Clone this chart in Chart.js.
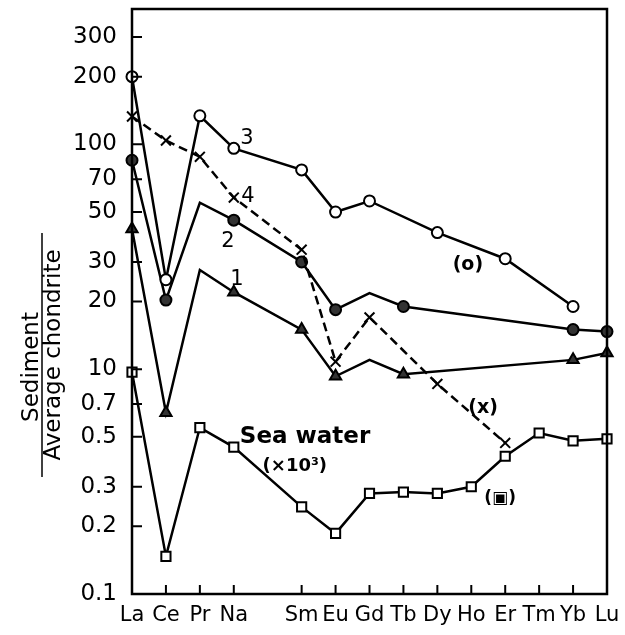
<!DOCTYPE html>
<html>
<head>
<meta charset="utf-8">
<script src="https://cdn.jsdelivr.net/npm/chart.js@4"></script>
<style>
  html, body { margin: 0; padding: 0; background: #fff; }
</style>
</head>
<body>
<canvas id="reeChart" width="625" height="635"></canvas>
<script>
// rare earth elements, Pm left empty
const elements = ["La", "Ce", "Pr", "Na", "", "Sm", "Eu", "Gd", "Tb", "Dy", "Ho", "Er", "Tm", "Yb", "Lu"];

// sediment / average chondrite
const sample3 = [200, 25, 134, 96, null, 77, 50, 56, null, 40.5, null, 31, null, 19, null];
const sample4 = [133, 104, 88, 58, null, 34, 10.8, 17, null, 8.6, null, 4.7, null, null, null];
const sample2 = [85, 20.3, 55, 46, null, 30, 18.4, 21.8, 19, null, null, null, null, 15, 14.7];
const sample1 = [42, 6.4, 27.6, 22, null, 15, 9.3, 11, 9.5, null, null, null, null, 11, 11.8];

// sea water (x10^3), read on the lower scale
const seaWater = [0.97, 0.147, 0.55, 0.45, null, 0.244, 0.186, 0.28, 0.284, 0.28, 0.3, 0.41, 0.52, 0.48, 0.49];

// axis is in sediment units; labels under 10 belong to the sea water scale (value / 10)
const yTicks = [300, 200, 100, 70, 50, 30, 20, 10, 7, 5, 3, 2, 1];

// peaks drawn without a marker
const noMarker = [2, 7];

const markerSize = (r) => (ctx) => (noMarker.includes(ctx.dataIndex) ? 0 : r);

const frame = {
  id: "frame",
  afterDraw(chart) {
    const { ctx, chartArea: a, scales } = chart;
    const x = scales.x, y = scales.y;
    ctx.save();
    ctx.strokeStyle = "#000";
    ctx.lineWidth = 2.5;
    ctx.strokeRect(a.left, a.top, a.right - a.left, a.bottom - a.top);

    // inner tick marks
    ctx.beginPath();
    ctx.lineWidth = 2;
    yTicks.forEach((v) => {
      if (v === 1) return;
      const py = y.getPixelForValue(v);
      ctx.moveTo(a.left, py);
      ctx.lineTo(a.left + 10, py);
    });
    elements.forEach((e, i) => {
      if (!e || i === 0 || i === elements.length - 1) return;
      const px = x.getPixelForValue(i);
      ctx.moveTo(px, a.bottom);
      ctx.lineTo(px, a.bottom - 9);
    });
    ctx.stroke();

    // y title as a fraction
    ctx.save();
    ctx.translate(0, 355);
    ctx.rotate(-Math.PI / 2);
    ctx.fillStyle = "#000";
    ctx.textAlign = "center";
    ctx.font = "23px 'DejaVu Sans'";
    ctx.textBaseline = "alphabetic";
    ctx.fillText("Sediment", -12, 38);
    ctx.fillText("Average chondrite", 0, 60);
    ctx.beginPath();
    ctx.lineWidth = 1.5;
    ctx.moveTo(-122, 42);
    ctx.lineTo(122, 42);
    ctx.stroke();
    ctx.restore();

    // curve labels
    const notes = [
      { t: "3", i: 3.39, v: 106, f: "21px 'DejaVu Sans'" },
      { t: "4", i: 3.42, v: 58.7, f: "21px 'DejaVu Sans'" },
      { t: "2", i: 2.83, v: 37, f: "21px 'DejaVu Sans'" },
      { t: "1", i: 3.09, v: 25, f: "21px 'DejaVu Sans'" },
      { t: "(o)", i: 9.9, v: 29, f: "bold 19px 'DejaVu Sans'" },
      { t: "(x)", i: 10.35, v: 6.7, f: "bold 19px 'DejaVu Sans'" },
      { t: "(\u25A3)", i: 10.85, v: 2.65, f: "bold 17px 'DejaVu Sans'" },
      { t: "Sea water", i: 5.1, v: 5.0, f: "bold 23px 'DejaVu Sans'" },
      { t: "(\u00d710\u00b3)", i: 4.8, v: 3.7, f: "bold 18px 'DejaVu Sans'" },
    ];
    ctx.fillStyle = "#000";
    ctx.textAlign = "center";
    ctx.textBaseline = "middle";
    notes.forEach((n) => {
      ctx.font = n.f;
      ctx.fillText(n.t, x.getPixelForValue(n.i), y.getPixelForValue(n.v));
    });
    ctx.restore();
  },
};

const line = (data, style, extra) =>
  Object.assign(
    {
      data,
      borderColor: "#000",
      borderWidth: 2.5,
      pointStyle: style,
      pointBorderColor: "#000",
      pointBorderWidth: 2,
      spanGaps: true,
      tension: 0,
    },
    extra,
  );

new Chart(document.getElementById("reeChart"), {
  type: "line",
  data: {
    labels: elements,
    datasets: [
      line(sample3, "circle", { pointRadius: 5.5, pointBackgroundColor: "#fff" }),
      line(sample4, "crossRot", { pointRadius: 7, borderDash: [9, 5] }),
      line(sample2, "circle", { pointRadius: markerSize(5.5), pointBackgroundColor: "#333" }),
      line(sample1, "triangle", { pointRadius: markerSize(6.5), pointBackgroundColor: "#333" }),
      line(
        seaWater.map((v) => (v == null ? null : v * 10)),
        "rect",
        { pointRadius: 6.5, pointBackgroundColor: "#fff" },
      ),
    ],
  },
  options: {
    responsive: false,
    animation: false,
    layout: { padding: { top: 5, right: 18, left: 0, bottom: 0 } },
    plugins: { legend: { display: false }, tooltip: { enabled: false } },
    scales: {
      x: {
        type: "category",
        offset: false,
        grid: { display: false },
        border: { display: false },
        ticks: {
          color: "#000",
          font: { family: "DejaVu Sans", size: 21 },
          padding: 1,
          autoSkip: false,
          maxRotation: 0,
        },
        afterFit: (s) => { s.height = 41; s.paddingLeft = 0; s.paddingRight = 0; },
      },
      y: {
        type: "logarithmic",
        min: 1,
        max: 400,
        grid: { display: false },
        border: { display: false },
        afterBuildTicks: (s) => { s.ticks = yTicks.map((v) => ({ value: v })); },
        ticks: {
          color: "#000",
          font: { family: "DejaVu Sans", size: 23 },
          padding: 7,
          callback: (v) => (v < 10 ? String(v / 10) : String(v)),
        },
        afterFit: (s) => { s.width = 132; s.paddingTop = 0; s.paddingBottom = 0; },
      },
    },
  },
  plugins: [frame],
});
</script>
</body>
</html>
